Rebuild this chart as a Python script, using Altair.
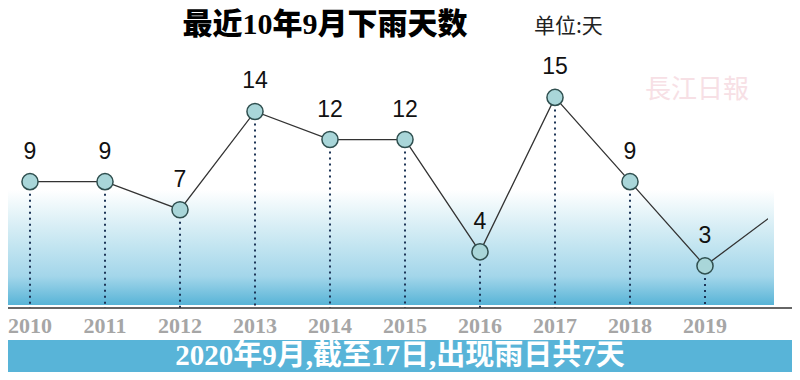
import altair as alt
import pandas as pd

years = [2010, 2011, 2012, 2013, 2014, 2015, 2016, 2017, 2018, 2019]
days = [9, 9, 7, 14, 12, 12, 4, 15, 9, 3]
year_labels = [str(y) for y in years]
current_year = 2020
current_days = 7

title_text = "最近10年9月下雨天数"
unit_text = "单位:天"
banner_text = "2020年9月,截至17日,出现雨日共7天"
watermark_text = "長江日報"

df = pd.DataFrame({"year": years, "days": days, "label": year_labels})
df_line = pd.DataFrame({"year": years + [current_year], "days": days + [current_days]})
one = pd.DataFrame({"a": [0]})

xs = alt.Scale(domain=[2009.7067, 2019.84], nice=False, zero=False)
ys = alt.Scale(domain=[0, 21.37], nice=False, zero=False)
X = alt.X("year:Q", scale=xs, axis=None)
Y = alt.Y("days:Q", scale=ys, axis=None)

serif_cjk = "'Liberation Serif', 'Noto Sans CJK SC'"

grad = alt.Gradient(
    gradient="linear",
    stops=[
        alt.GradientStop(color="#ffffff", offset=0),
        alt.GradientStop(color="#d3ecf4", offset=0.35),
        alt.GradientStop(color="#a3d6ea", offset=0.75),
        alt.GradientStop(color="#58b4d7", offset=1),
    ],
    x1=0, x2=0, y1=0, y2=1,
)

bg = alt.Chart(one).mark_rect(fill=grad).encode(
    x=alt.value(0), x2=alt.value(766), y=alt.value(182), y2=alt.value(297)
)

drops = alt.Chart(df).mark_rule(color="#1d3557", strokeWidth=2, strokeDash=[2, 4]).encode(
    x=X, y=Y, y2=alt.datum(0)
)

baseline = alt.Chart(one).mark_rule(color="#333333", strokeWidth=1.5).encode(
    x=alt.value(0), x2=alt.value(784), y=alt.value(300)
)

line = alt.Chart(df_line).mark_line(clip=True, color="#333333", strokeWidth=1.3).encode(x=X, y=Y)

points = alt.Chart(df).mark_circle(
    color="#a9d6d9", stroke="#2f4f4f", strokeWidth=1.5, size=260, opacity=1
).encode(x=X, y=Y)

values = alt.Chart(df).mark_text(
    dy=-30, fontSize=23, font="Liberation Sans", color="#111111"
).encode(x=X, y=Y, text="days:Q")

ylabels = alt.Chart(df).mark_text(
    font="Liberation Serif", fontWeight="bold", fontSize=22, color="#a6a6a6", baseline="middle"
).encode(x=X, y=alt.value(318), text="label:N")

title = alt.Chart(one).mark_text(
    text=title_text, font=serif_cjk, fontWeight=900,
    fontSize=30, color="#000000", baseline="middle", align="center"
).encode(x=alt.value(317), y=alt.value(17))

unit = alt.Chart(one).mark_text(
    text=unit_text, font="Noto Sans CJK SC", fontSize=21, color="#222222",
    baseline="middle", align="left"
).encode(x=alt.value(526), y=alt.value(19))

watermark = alt.Chart(one).mark_text(
    text=watermark_text, font="Noto Sans CJK TC", fontSize=26, color="#f7e0e5",
    baseline="middle", align="center"
).encode(x=alt.value(689), y=alt.value(82))

banner = alt.Chart(one).mark_rect(color="#58b4d8").encode(
    x=alt.value(0), x2=alt.value(784), y=alt.value(332), y2=alt.value(372)
)

banner_t = alt.Chart(one).mark_text(
    text=banner_text, font=serif_cjk, fontWeight="bold",
    fontSize=29, color="#ffffff", baseline="middle", align="center"
).encode(x=alt.value(392), y=alt.value(348))

chart = alt.layer(
    bg, drops, baseline, line, points, values, ylabels, title, unit, watermark, banner, banner_t
).properties(
    width=760, height=300,
    autosize=alt.AutoSizeParams(type="none"),
    padding={"left": 0, "top": 0, "right": 24, "bottom": 64},
).configure_view(stroke=None)

chart.save("out.html", embed_options={"renderer": "svg", "actions": False})
